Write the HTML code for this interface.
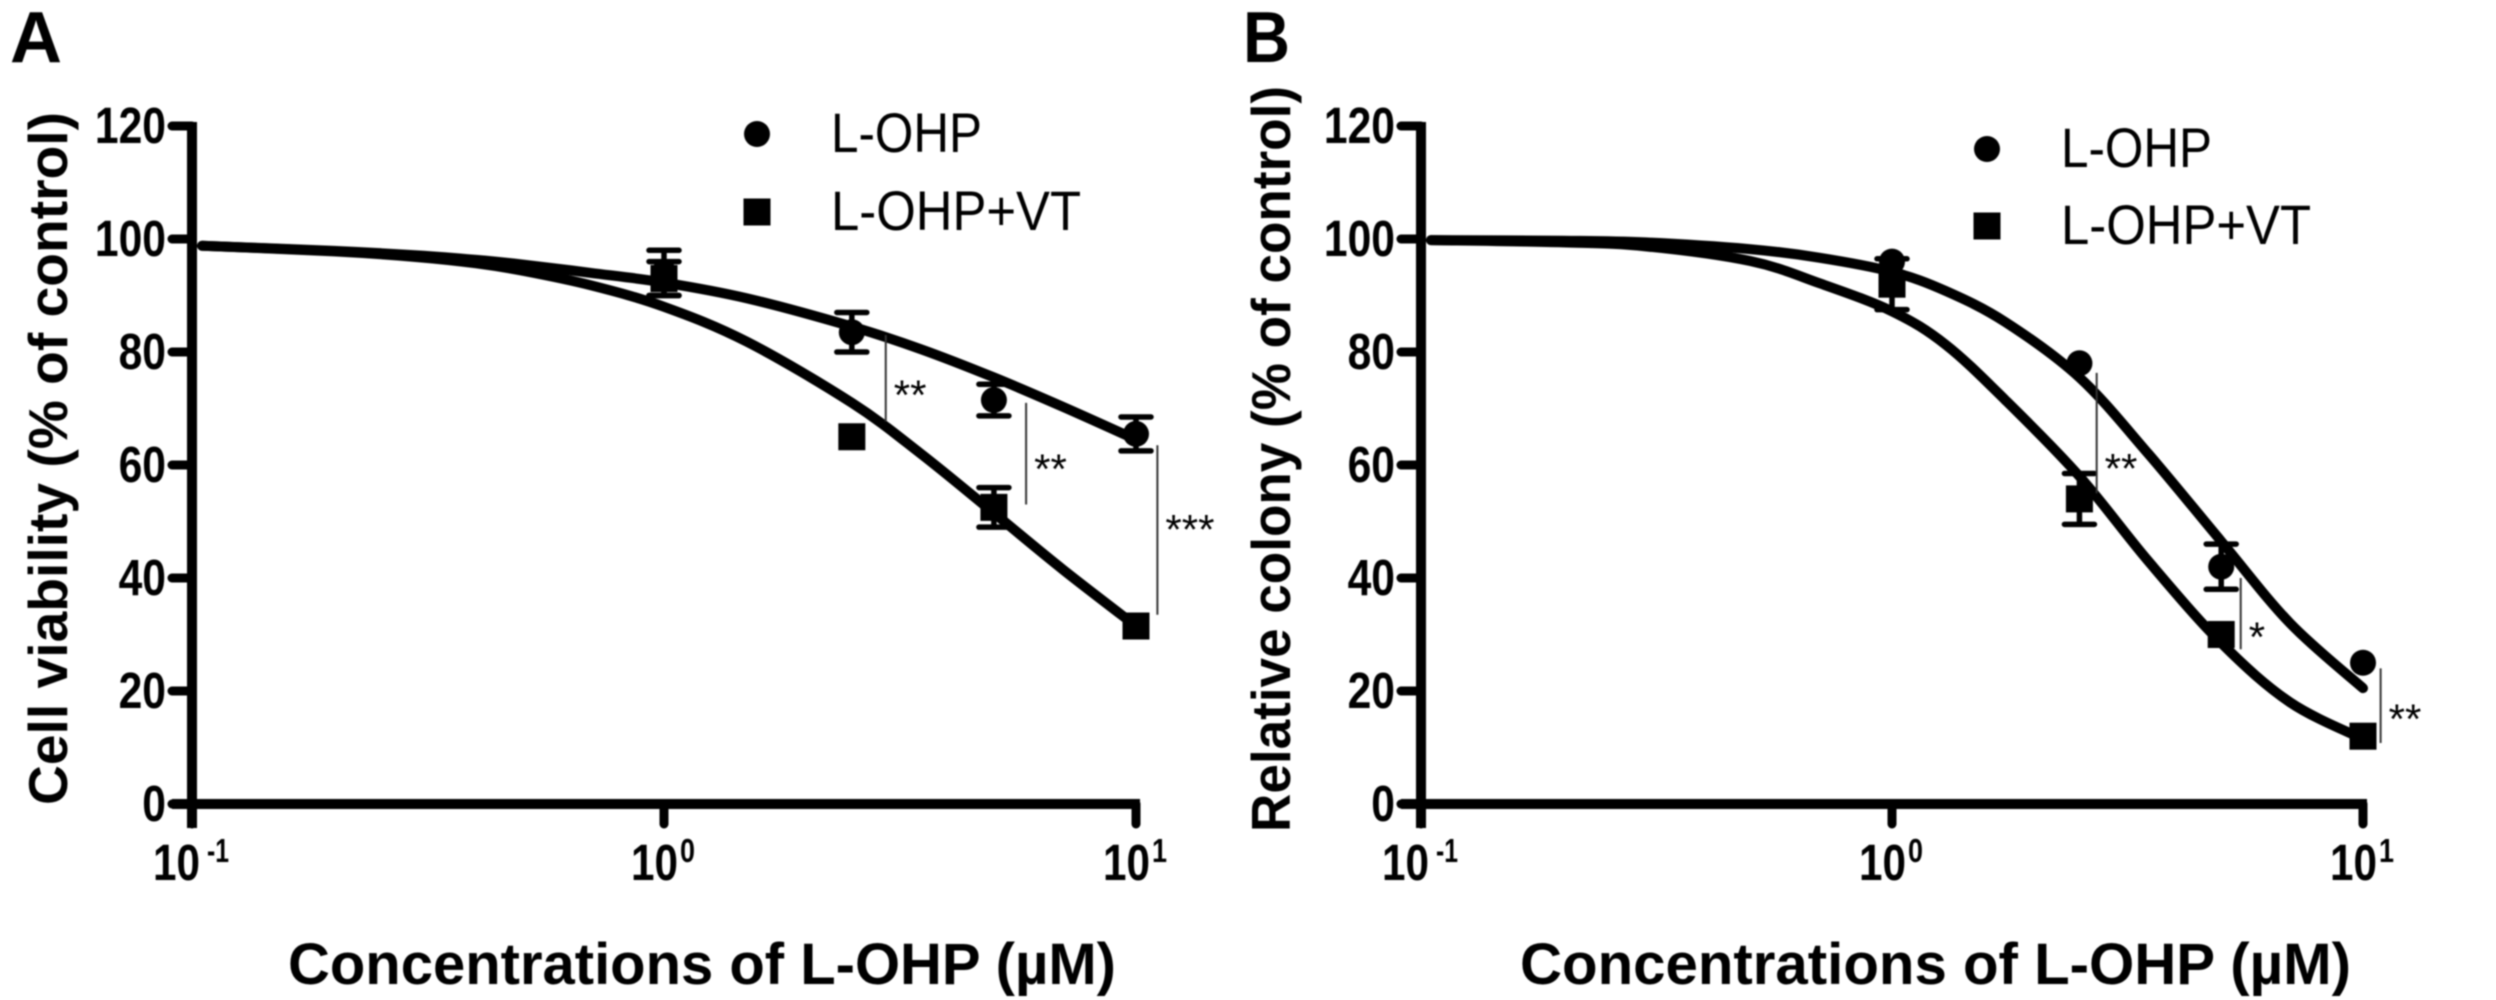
<!DOCTYPE html>
<html>
<head>
<meta charset="utf-8">
<title>Dose-response curves</title>
<style>
html,body{margin:0;padding:0;background:#fff;width:2496px;height:1000px;overflow:hidden}
svg{display:block;filter:blur(0.8px)}
text{font-family:"Liberation Sans",sans-serif;fill:#000}
</style>
</head>
<body>
<svg id="chart" xmlns="http://www.w3.org/2000/svg" width="2496" height="1000" viewBox="0 0 2496 1000"></svg>
<script>
// Shared axis data
const yTicks = [0, 20, 40, 60, 80, 100, 120];
const xTickExponents = [-1, 0, 1];
const pointConc = [1, 2.5, 5, 10];
const fitConcA = [0.105, 0.2, 0.3, 0.4, 0.5, 0.7, 1, 1.5, 2.5, 3.5, 5, 7, 10];
const fitConcB = [0.105, 0.2, 0.3, 0.5, 0.7, 1, 1.3, 1.74, 2.5, 3.5, 5, 7, 10];

// Panel A values
const aFitLohp = [98.8, 97.9, 97.1, 96.3, 95.5, 94, 92.3, 89.5, 84.5, 80.5, 75.5, 70.3, 64.5];
const aFitVt = [98.8, 97.8, 96.8, 95.7, 94.4, 91.8, 88, 81.8, 71, 62, 51.5, 41.5, 31.5];
const aMeanLohp = [94, 83.5, 71.5, 65.5];
const aErrLohp = [4, 3.5, 2.8, 3];
const aMeanVt = [93, 65, 52.5, 31.5];
const aErrVt = [3, 0, 3.5, 0];
const aBracketConc = [2.95, 5.85, 11.1];
const aBracketLow = [67.7, 53, 33.5];
const aBracketHigh = [83, 71, 63.5];
const aStars = ["**", "**", "***"];

// Panel B values
const bFitLohp = [99.8, 99.7, 99.4, 98.2, 96.7, 94.2, 90.8, 85.3, 75.5, 62, 46.5, 32, 20.5];
const bFitVt = [99.8, 99.4, 98.7, 96.1, 92.2, 87.2, 81.3, 71.5, 58, 43, 28.5, 18, 11.5];
const bMeanLohp = [96, 78, 42, 25];
const bErrLohp = [0, 0, 4, 0];
const bMeanVt = [92, 54, 30, 12];
const bErrVt = [4.5, 4.5, 0, 0];
const bBracketConc = [2.72, 5.5, 10.9];
const bBracketLow = [55, 27.4, 10.8];
const bBracketHigh = [76.3, 40, 24];
const bStars = ["**", "*", "**"];

const NS = "http://www.w3.org/2000/svg";
const svg = document.getElementById("chart");

function make(tag, attrs, parent) {
  const el = document.createElementNS(NS, tag);
  for (const k in attrs) el.setAttribute(k, attrs[k]);
  (parent || svg).appendChild(el);
  return el;
}

function label(parent, str, x, y, size, weight, anchor, len) {
  const t = make("text", {x: x, y: y, "font-size": size, "font-weight": weight, "text-anchor": anchor}, parent);
  if (len) {
    t.setAttribute("textLength", len);
    t.setAttribute("lengthAdjust", "spacingAndGlyphs");
  }
  t.textContent = str;
  return t;
}

function smoothPath(xs, ys) {
  let d = "M" + xs[0] + " " + ys[0];
  for (let i = 0; i < xs.length - 1; i++) {
    const p0 = Math.max(i - 1, 0), p3 = Math.min(i + 2, xs.length - 1);
    const c1x = xs[i] + (xs[i + 1] - xs[p0]) / 6, c1y = ys[i] + (ys[i + 1] - ys[p0]) / 6;
    const c2x = xs[i + 1] - (xs[p3] - xs[i]) / 6, c2y = ys[i + 1] - (ys[p3] - ys[i]) / 6;
    d += " C" + c1x + " " + c1y + " " + c2x + " " + c2y + " " + xs[i + 1] + " " + ys[i + 1];
  }
  return d;
}

function drawPanel(cfg) {
  const g = make("g", {});
  
  

  const xPos = v => cfg.x0 + (Math.log10(v) + 1) * cfg.decade;
  const yPos = v => 804 - v * 5.65;

  const panelLetter = label(g, cfg.letter, cfg.letterX, 62, 72, 700, "start", cfg.letterW);
  
  

  // Axes
  const yAxis = make("line", {x1: xPos(0.1), x2: xPos(0.1), y1: yPos(120) - 4, y2: 828, stroke: "#000", "stroke-width": 10}, g);
  
  
  const xAxis = make("line", {x1: xPos(0.1) - 20, x2: xPos(10) + 4, y1: yPos(0), y2: yPos(0), stroke: "#000", "stroke-width": 10}, g);
  
  

  yTicks.forEach(v => {
    const tick = make("line", {x1: xPos(0.1) - 20, x2: xPos(0.1), y1: yPos(v), y2: yPos(v), stroke: "#000", "stroke-width": 9, "stroke-linecap": "round"}, g);
    
    
    const s = String(v);
    const t = label(g, s, xPos(0.1) - 26, yPos(v) + 17, 51, 700, "end", s.length * 23.7);
    
    
  });

  xTickExponents.forEach(e => {
    const px = xPos(Math.pow(10, e));
    const tick = make("line", {x1: px, x2: px, y1: yPos(0), y2: 824, stroke: "#000", "stroke-width": 9, "stroke-linecap": "round"}, g);
    
    
    const base = label(g, "10", px + (e < 0 ? -39 : -33), 880, 51, 700, "start", 47);
    
    
    const sup = label(g, String(e), px + (e < 0 ? 15 : 16), 862, 33, 700, "start", e < 0 ? 22 : 15);
    
    
  });

  // Axis titles
  const xTitle = label(g, "Concentrations of L-OHP (µM)", cfg.xTitleX, 984, 58, 700, "start", cfg.xTitleW);
  
  
  const yTitleWrap = make("g", {transform: "translate(" + cfg.yTitleX + " " + cfg.yTitleBottom + ") rotate(-90)"}, g);
  const yTitle = label(yTitleWrap, cfg.yTitle, 0, 0, 55, 700, "start", cfg.yTitleW);
  
  

  // Fit curves
  const curveL = make("path", {d: smoothPath(cfg.fitConc.map(xPos), cfg.fitL.map(yPos)), fill: "none", stroke: "#000", "stroke-width": 10, "stroke-linecap": "round"}, g);
  
  
  const curveV = make("path", {d: smoothPath(cfg.fitConc.map(xPos), cfg.fitV.map(yPos)), fill: "none", stroke: "#000", "stroke-width": 10, "stroke-linecap": "round"}, g);
  
  

  // Error bars and points
  function errorBar(c, m, e) {
    if (e <= 0) return;
    const px = xPos(c);
    const top = yPos(m + e), bot = yPos(m - e);
    const bar = make("path", {d: "M" + (px - 15) + " " + top + "H" + (px + 15) + "M" + (px - 15) + " " + bot + "H" + (px + 15) + "M" + px + " " + top + "V" + bot, fill: "none", stroke: "#000", "stroke-width": 5.5, "stroke-linecap": "round"}, g);
    
    
  }
  pointConc.forEach((c, i) => {
    errorBar(c, cfg.meanL[i], cfg.errL[i]);
    const pt = make("circle", {cx: xPos(c), cy: yPos(cfg.meanL[i]), r: 13, fill: "#000"}, g);
    
    
  });
  pointConc.forEach((c, i) => {
    errorBar(c, cfg.meanV[i], cfg.errV[i]);
    const pt = make("rect", {x: xPos(c) - 13.5, y: yPos(cfg.meanV[i]) - 13.5, width: 27, height: 27, fill: "#000"}, g);
    
    
  });

  // Significance brackets
  cfg.brConc.forEach((c, i) => {
    const line = make("line", {x1: xPos(c), x2: xPos(c), y1: yPos(cfg.brLow[i]), y2: yPos(cfg.brHigh[i]), stroke: "#333", "stroke-width": 2}, g);
    
    
    const my = (yPos(cfg.brLow[i]) + yPos(cfg.brHigh[i])) / 2;
    const star = label(g, cfg.stars[i], xPos(c) + 8, my + cfg.starDy[i], 42, 400, "start");
    
    
  });

  // Legend
  const legend = make("g", {}, g);
  
  
  const legendCircle = make("circle", {cx: cfg.legX, cy: cfg.legY1 - 18, r: 13, fill: "#000"}, legend);
  
  
  const legendSquare = make("rect", {x: cfg.legX - 13.5, y: cfg.legY2 - 18 - 13.5, width: 27, height: 27, fill: "#000"}, legend);
  
  
  const legendA = label(legend, "L-OHP", cfg.legX + 74, cfg.legY1, 56, 400, "start", 151);
  
  
  const legendB = label(legend, "L-OHP+VT", cfg.legX + 74, cfg.legY2, 56, 400, "start", 250);
  
  
}

drawPanel({
  name: "panel-a", letter: "A", letterX: 10, letterW: 52, x0: 192, decade: 472,
  xTitleX: 288, xTitleW: 828, yTitleX: 67, yTitleBottom: 805, yTitleW: 693,
  yTitle: "Cell viability (% of control)",
  fitConc: fitConcA, fitL: aFitLohp, fitV: aFitVt,
  meanL: aMeanLohp, errL: aErrLohp, meanV: aMeanVt, errV: aErrVt,
  brConc: aBracketConc, brLow: aBracketLow, brHigh: aBracketHigh, stars: aStars, starDy: [31, 30, 14],
  legX: 757, legY1: 152, legY2: 230
});

drawPanel({
  name: "panel-b", letter: "B", letterX: 1243, letterW: 47, x0: 1421, decade: 471,
  xTitleX: 1520, xTitleW: 831, yTitleX: 1290, yTitleBottom: 832, yTitleW: 746,
  yTitle: "Relative colony (% of control)",
  fitConc: fitConcB, fitL: bFitLohp, fitV: bFitVt,
  meanL: bMeanLohp, errL: bErrLohp, meanV: bMeanVt, errV: bErrVt,
  brConc: bBracketConc, brLow: bBracketLow, brHigh: bBracketHigh, stars: bStars, starDy: [50, 38, 28],
  legX: 1987, legY1: 167, legY2: 244
});
</script>
</body>
</html>
